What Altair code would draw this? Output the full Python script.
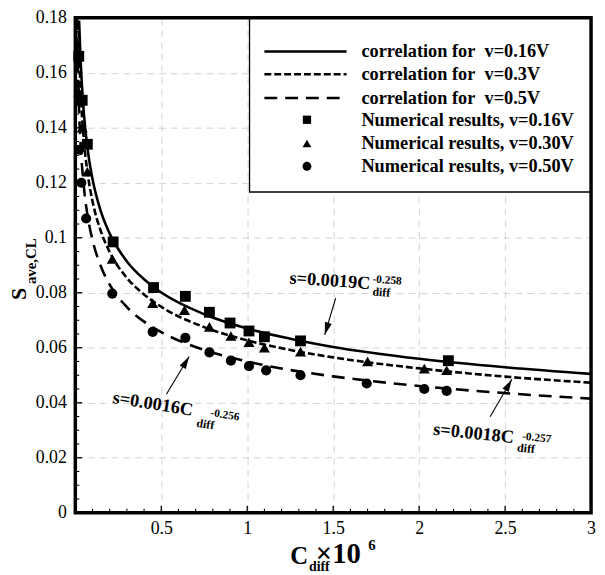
import altair as alt
import pandas as pd

# ---------------- data ----------------
# Numerical results (x = C_diff x 1e6, y = s_ave,CL)
sq_x = [0.02, 0.04, 0.07, 0.22, 0.455, 0.64, 0.78, 0.90, 1.01, 1.10, 1.31, 2.17]
sq_y = [0.166, 0.150, 0.134, 0.0985, 0.0819, 0.0787, 0.0729, 0.0690, 0.0661, 0.0640, 0.0625, 0.0553]

tri_x = [0.02, 0.04, 0.07, 0.215, 0.45, 0.635, 0.78, 0.905, 1.01, 1.10, 1.31, 1.70, 2.03, 2.16]
tri_y = [0.153, 0.140, 0.124, 0.0923, 0.0762, 0.0737, 0.0676, 0.0643, 0.0620, 0.0600, 0.0586, 0.0550, 0.0524, 0.0518]

cir_x = [0.023, 0.035, 0.063, 0.215, 0.45, 0.64, 0.78, 0.905, 1.01, 1.11, 1.31, 1.695, 2.03, 2.16]
cir_y = [0.132, 0.120, 0.107, 0.0797, 0.0658, 0.0636, 0.0583, 0.0553, 0.0533, 0.0518, 0.0500, 0.0470, 0.0450, 0.0443]

# Correlation curves
c16_x = [0.022, 0.03, 0.05, 0.075, 0.1, 0.15, 0.2, 0.3, 0.4, 0.5, 0.75, 1.0, 1.25, 1.5, 2.0, 2.5, 3.0]
c16_y = [0.179, 0.1656, 0.1451, 0.1307, 0.1214, 0.1093, 0.1015, 0.0914, 0.0849, 0.0801, 0.0722, 0.0670, 0.0633, 0.0603, 0.0560, 0.0529, 0.0505]

c30_x = [0.017, 0.03, 0.05, 0.075, 0.1, 0.15, 0.2, 0.3, 0.4, 0.5, 0.75, 1.0, 1.25, 1.5, 2.0, 2.5, 3.0]
c30_y = [0.1787, 0.1544, 0.1354, 0.1220, 0.1133, 0.1021, 0.0948, 0.0854, 0.0794, 0.0749, 0.0675, 0.0627, 0.0592, 0.0565, 0.0525, 0.0495, 0.0473]

c50_x = [0.0097, 0.02, 0.03, 0.05, 0.075, 0.1, 0.15, 0.2, 0.3, 0.4, 0.5, 0.75, 1.0, 1.25, 1.5, 2.0, 2.5, 3.0]
c50_y = [0.1802, 0.1497, 0.1350, 0.1184, 0.1067, 0.0992, 0.0894, 0.0830, 0.0748, 0.0695, 0.0657, 0.0592, 0.0550, 0.0519, 0.0496, 0.0461, 0.0435, 0.0415]

# Axis ticks
x_major = [0.5, 1, 1.5, 2, 2.5, 3]
x_minor = [0.1, 0.2, 0.3, 0.4, 0.6, 0.7, 0.8, 0.9, 1.1, 1.2, 1.3, 1.4, 1.6, 1.7, 1.8, 1.9,
           2.1, 2.2, 2.3, 2.4, 2.6, 2.7, 2.8, 2.9]
y_major = [0, 0.02, 0.04, 0.06, 0.08, 0.1, 0.12, 0.14, 0.16, 0.18]
y_minor = [0.005, 0.01, 0.015, 0.025, 0.03, 0.035, 0.045, 0.05, 0.055, 0.065, 0.07, 0.075,
           0.085, 0.09, 0.095, 0.105, 0.11, 0.115, 0.125, 0.13, 0.135, 0.145, 0.15, 0.155,
           0.165, 0.17, 0.175]

# Annotations (data coordinates)
ann_main = ["s=0.0019C", "s=0.0016C", "s=0.0018C"]
ann_main_x = [1.244, 0.213, 2.079]
ann_main_y = [0.0834, 0.0399, 0.0284]
ann_angle = [4, 9, 6]
ann_sub_x = [1.727, 0.702, 2.568]
ann_sub_y = [0.0790, 0.0313, 0.0223]
ann_sup = ["-0.258", "-0.256", "-0.257"]
ann_sup_x = [1.727, 0.783, 2.597]
ann_sup_y = [0.0837, 0.0352, 0.0266]

arrow_x0 = [1.514, 0.530, 2.413]
arrow_y0 = [0.0780, 0.0431, 0.0349]
arrow_x1 = [1.451, 0.662, 2.539]
arrow_y1 = [0.0647, 0.0568, 0.0485]
arrow_ang = [196.6, 31, 30]

legend_labels = ["correlation for\u00a0 v=0.16V", "correlation for\u00a0 v=0.3V",
                 "correlation for\u00a0 v=0.5V", "Numerical results, v=0.16V",
                 "Numerical results, v=0.30V", "Numerical results, v=0.50V"]

# ---------------- chart ----------------
W, H = 521, 500
FONT = "Liberation Serif"
xs = alt.Scale(domain=[0, 3], nice=False, zero=False)
ys = alt.Scale(domain=[0, 0.18], nice=False)

xaxis = alt.Axis(values=x_major, format="~g", title=None, domain=False, tickSize=0,
                 labelPadding=7, labelFont=FONT, labelFontSize=18, labelColor="black",
                 labelFlush=False, labelOverlap=False, grid=True, gridDash=[7, 5],
                 gridColor="#d2d2d2", gridWidth=1)
yaxis = alt.Axis(values=y_major, format="~g", title=None, domain=False, tickSize=0,
                 labelPadding=9, labelFont=FONT, labelFontSize=18, labelColor="black",
                 labelFlush=False, labelOverlap=False, grid=True, gridDash=[7, 5],
                 gridColor="#d2d2d2", gridWidth=1)

X = lambda f="x": alt.X(f"{f}:Q", scale=xs, axis=xaxis)
Y = lambda f="y": alt.Y(f"{f}:Q", scale=ys, axis=yaxis)
one = pd.DataFrame({"k": [0]})

layers = []

# legend box background
layers.append(alt.Chart(one).mark_rect(fill="white", stroke="black", strokeWidth=1.3).encode(
    x=alt.value(176), x2=alt.value(W), y=alt.value(0), y2=alt.value(176)))

# curves
dashes = [None, [7, 3], [13, 8]]
for cx, cy, d in [(c16_x, c16_y, dashes[0]), (c30_x, c30_y, dashes[1]), (c50_x, c50_y, dashes[2])]:
    kw = dict(color="black", strokeWidth=2.6, clip=True, interpolate="monotone")
    if d:
        kw["strokeDash"] = d
    layers.append(alt.Chart(pd.DataFrame({"x": cx, "y": cy})).mark_line(**kw).encode(x=X(), y=Y()))

# points
for px, py, shape, size in [(sq_x, sq_y, "square", 120), (tri_x, tri_y, "triangle-up", 125),
                            (cir_x, cir_y, "circle", 105)]:
    layers.append(alt.Chart(pd.DataFrame({"x": px, "y": py})).mark_point(
        shape=shape, filled=True, color="black", opacity=1, size=size).encode(x=X(), y=Y()))

# arrows
arr = pd.DataFrame({"x": arrow_x0, "y": arrow_y0, "x2": arrow_x1, "y2": arrow_y1, "a": arrow_ang})
layers.append(alt.Chart(arr).mark_rule(color="black", strokeWidth=1.1).encode(
    x=X(), y=Y(), x2="x2:Q", y2="y2:Q"))
layers.append(alt.Chart(arr).mark_point(
    shape="M0,0L0.6,2.1L-0.6,2.1Z", filled=True, color="black", opacity=1, size=144).encode(
    x=X("x2"), y=Y("y2"), angle=alt.Angle("a:Q", scale=None)))

# annotation texts
for i in range(3):
    layers.append(alt.Chart(pd.DataFrame({"x": [ann_main_x[i]], "y": [ann_main_y[i]]})).mark_text(
        text=ann_main[i], font=FONT, fontWeight="bold", fontSize=18.5, align="left",
        baseline="alphabetic", angle=ann_angle[i], color="black").encode(x=X(), y=Y()))
    layers.append(alt.Chart(pd.DataFrame({"x": [ann_sub_x[i]], "y": [ann_sub_y[i]]})).mark_text(
        text="diff", font=FONT, fontWeight="bold", fontSize=12, align="left",
        baseline="alphabetic", angle=ann_angle[i], color="black").encode(x=X(), y=Y()))
    layers.append(alt.Chart(pd.DataFrame({"x": [ann_sup_x[i]], "y": [ann_sup_y[i]]})).mark_text(
        text=ann_sup[i], font=FONT, fontWeight="bold", fontSize=11.5, align="left",
        baseline="alphabetic", angle=ann_angle[i], color="black").encode(x=X(), y=Y()))

# inward ticks
layers.append(alt.Chart(pd.DataFrame({"x": x_major})).mark_rule(color="black", strokeWidth=1.3).encode(
    x=X(), y=alt.value(H), y2=alt.value(H - 7)))
layers.append(alt.Chart(pd.DataFrame({"x": x_minor})).mark_rule(color="black", strokeWidth=1.1).encode(
    x=X(), y=alt.value(H), y2=alt.value(H - 4)))
layers.append(alt.Chart(pd.DataFrame({"y": y_major})).mark_rule(color="black", strokeWidth=1.3).encode(
    y=Y(), x=alt.value(0), x2=alt.value(7)))
layers.append(alt.Chart(pd.DataFrame({"y": y_minor})).mark_rule(color="black", strokeWidth=1.1).encode(
    y=Y(), x=alt.value(0), x2=alt.value(4)))

# frame
layers.append(alt.Chart(one).mark_rect(fill="white", fillOpacity=0, stroke="black", strokeWidth=3.5).encode(
    x=alt.value(0), x2=alt.value(W), y=alt.value(0), y2=alt.value(H)))

# legend contents
rows = [34, 57, 81, 103, 127, 150]
for i, d in enumerate(dashes):
    kw = dict(color="black", strokeWidth=2.6)
    if d:
        kw["strokeDash"] = d
    layers.append(alt.Chart(one).mark_rule(**kw).encode(
        x=alt.value(191), x2=alt.value(274), y=alt.value(rows[i])))
for i, (shape, size) in enumerate([("square", 70), ("triangle-up", 80), ("circle", 80)]):
    layers.append(alt.Chart(one).mark_point(shape=shape, filled=True, color="black", opacity=1,
                                            size=size).encode(x=alt.value(234), y=alt.value(rows[3 + i])))
for i, lab in enumerate(legend_labels):
    layers.append(alt.Chart(one).mark_text(text=lab, font=FONT, fontWeight="bold", fontSize=18.5,
                                           align="left", baseline="middle", color="black").encode(
        x=alt.value(289), y=alt.value(rows[i])))

# axis titles
def txt(t, x, y, size, angle=0):
    kw = dict(text=t, font=FONT, fontWeight="bold", fontSize=size, align="left",
              baseline="alphabetic", color="black")
    if angle:
        kw["angle"] = angle
    return alt.Chart(one).mark_text(**kw).encode(x=alt.value(x), y=alt.value(y))

layers += [
    txt("C", 217, 552, 25),
    txt("diff", 236, 559, 14),
    txt("\u00d710", 243, 551, 29),
    txt("6", 296, 538, 15),
    txt("S", -50, 285, 22, 270),
    txt("ave,CL", -40, 269, 15, 270),
]

chart = alt.layer(*layers).properties(
    width=W, height=H,
    padding={"left": 68, "top": 7, "right": 6, "bottom": 60},
    autosize=alt.AutoSizeParams(type="none"),
).configure_view(strokeWidth=0)

chart.save("out.html", embed_options={"renderer": "svg", "actions": False})
